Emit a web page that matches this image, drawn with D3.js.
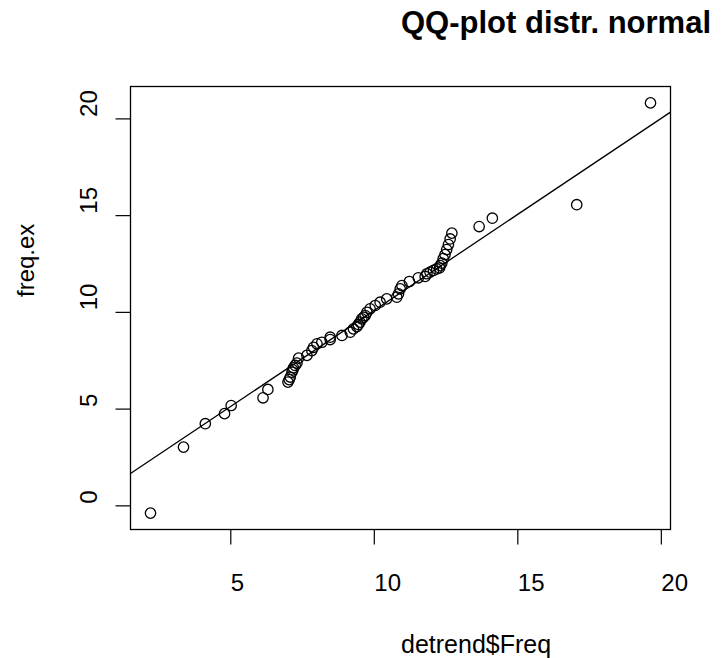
<!DOCTYPE html>
<html>
<head>
<meta charset="utf-8">
<script src="https://cdn.jsdelivr.net/npm/d3@7"></script>
<style>
  html, body { margin: 0; padding: 0; background: #fff; }
  svg text { font-family: "Liberation Sans", Arial, sans-serif; fill: #000; }
</style>
</head>
<body>
<div class="container"></div>
<script>
// sorted sample quantiles
const detrendFreq = [2.22, 3.37, 4.13, 4.80, 5.03, 6.14, 6.31, 7.01, 7.05, 7.09, 7.15, 7.18, 7.20, 7.26, 7.32, 7.38,
    7.67, 7.84, 7.90, 8.02, 8.19, 8.48, 8.48, 8.89, 9.18, 9.29, 9.41, 9.46, 9.52, 9.58, 9.64, 9.70, 9.76, 9.87,
    10.05, 10.22, 10.45, 10.80, 10.86, 10.92, 10.98, 11.24, 11.55, 11.79, 11.85, 11.96, 12.08, 12.19, 12.29,
    12.31, 12.37, 12.42, 12.48, 12.54, 12.60, 12.66, 12.72, 13.67, 14.13, 17.07, 19.64]

const freqEx = [-0.40, 3.01, 4.22, 4.74, 5.16, 5.56, 5.99, 6.37, 6.50, 6.63, 6.88, 7.00, 7.11, 7.23, 7.35, 7.61,
    7.75, 8.00, 8.17, 8.35, 8.43, 8.57, 8.69, 8.78, 8.95, 9.12, 9.24, 9.35, 9.47, 9.64, 9.72, 9.81, 9.98, 10.16,
    10.33, 10.50, 10.67, 10.76, 10.93, 11.19, 11.36, 11.57, 11.76, 11.83, 11.97, 12.05, 12.14, 12.22, 12.27,
    12.39, 12.52, 12.75, 12.96, 13.22, 13.48, 13.77, 14.07, 14.41, 14.84, 15.54, 20.80]

// reference line y = a + b*x
const lineCoef = [0.13, 0.993]

const xTicks = [5, 10, 15, 20]
const yTicks = [0, 5, 10, 15, 20]

const mainTitle = 'QQ-plot distr. normal'
const xLabel = 'detrend$Freq'
const yLabel = 'freq.ex'

const drawChart = () => {

    const width = 724;
    const height = 658;

    // plot region (R style box)
    const left = 130.5, right = 670.5, top = 86.5, bottom = 529.5;

    const svg = d3.select('.container')
                .append('svg')
                .attr('width', width)
                .attr('height', height)

    // R pads the data range by 4% on each side
    const pad = (ext) => {
        const r = ext[1] - ext[0];
        return [ext[0] - 0.04 * r, ext[1] + 0.04 * r];
    }

    const x = d3.scaleLinear()
        .domain(pad(d3.extent(detrendFreq)))
        .range([left, right]);

    const y = d3.scaleLinear()
        .domain(pad(d3.extent(freqEx)))
        .range([bottom, top]);

    // x axis
    const gx = svg.append('g')
        .attr('transform', `translate(0,${bottom})`)
        .call(d3.axisBottom(x).tickValues(xTicks).tickSize(15).tickFormat(d3.format('d')));

    gx.select('.domain').remove();
    gx.selectAll('.tick line').attr('stroke', '#000').attr('stroke-width', 1.2);
    gx.selectAll('.tick text')
        .attr('y', 61)
        .attr('dy', 0)
        .attr('x', 0)
        .attr('text-anchor', 'start')
        .style('font-size', '24px')
        .style('font-family', '"Liberation Sans", Arial, sans-serif');

    // y axis, labels parallel to the axis
    const gy = svg.append('g')
        .attr('transform', `translate(${left},0)`)
        .call(d3.axisLeft(y).tickValues(yTicks).tickSize(15).tickFormat(d3.format('d')));

    gy.select('.domain').remove();
    gy.selectAll('.tick line').attr('stroke', '#000').attr('stroke-width', 1.2);
    gy.selectAll('.tick text')
        .attr('x', 0)
        .attr('y', 0)
        .attr('dy', 0)
        .attr('text-anchor', 'start')
        .attr('transform', 'translate(-33.5,-2) rotate(-90)')
        .style('font-size', '24px')
        .style('font-family', '"Liberation Sans", Arial, sans-serif');

    // clip for the line
    svg.append('clipPath')
        .attr('id', 'plotclip')
        .append('rect')
        .attr('x', left)
        .attr('y', top)
        .attr('width', right - left)
        .attr('height', bottom - top);

    const xd = x.domain();
    svg.append('line')
        .attr('clip-path', 'url(#plotclip)')
        .attr('x1', x(xd[0]))
        .attr('y1', y(lineCoef[0] + lineCoef[1] * xd[0]))
        .attr('x2', x(xd[1]))
        .attr('y2', y(lineCoef[0] + lineCoef[1] * xd[1]))
        .attr('stroke', '#000')
        .attr('stroke-width', 1.3);

    // points
    svg.append('g')
        .selectAll('circle')
        .data(detrendFreq.map((d, i) => [d, freqEx[i]]))
        .enter()
        .append('circle')
        .attr('cx', (d) => x(d[0]))
        .attr('cy', (d) => y(d[1]))
        .attr('r', 5.2)
        .attr('fill', 'none')
        .attr('stroke', '#000')
        .attr('stroke-width', 1.3);

    // box
    svg.append('rect')
        .attr('x', left)
        .attr('y', top)
        .attr('width', right - left)
        .attr('height', bottom - top)
        .attr('fill', 'none')
        .attr('stroke', '#000')
        .attr('stroke-width', 1.3);

    // titles
    svg.append('text')
        .attr('x', 401)
        .attr('y', 33)
        .style('font-size', '31px')
        .style('font-weight', 'bold')
        .text(mainTitle);

    svg.append('text')
        .attr('x', 401)
        .attr('y', 653)
        .style('font-size', '25px')
        .text(xLabel);

    svg.append('text')
        .attr('transform', 'translate(34,297) rotate(-90)')
        .style('font-size', '24px')
        .text(yLabel);
}

drawChart();
</script>
</body>
</html>
